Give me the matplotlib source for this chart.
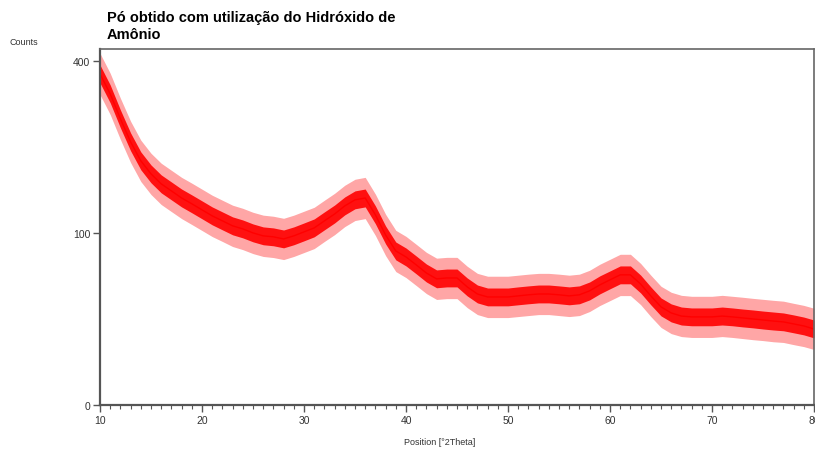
import numpy as np
import matplotlib
matplotlib.use("Agg")
import matplotlib.pyplot as plt
from matplotlib.ticker import FixedLocator, MultipleLocator

plt.rcParams['font.family'] = ['Liberation Sans', 'DejaVu Sans']

two_theta = list(range(10, 81))
counts = [370.2, 326.9, 276.6, 233.8, 201.4, 180.4, 165.1, 154.8, 144.7, 136.7,
          128.6, 120.8, 114.5, 108.4, 104.7, 100.0, 96.6, 95.5, 93.1, 96.6,
          101.2, 105.9, 114.5, 123.2, 133.9, 142.1, 144.7, 122.1, 97.6, 80.1,
          74.0, 66.3, 58.8, 53.7, 54.5, 54.5, 47.1, 41.6, 39.4, 39.4,
          39.4, 40.2, 41.0, 41.6, 41.6, 41.0, 40.2, 41.0, 44.0, 48.7,
          52.9, 57.2, 57.2, 49.4, 40.2, 32.5, 28.6, 26.7, 26.2, 26.2,
          26.2, 26.7, 26.2, 25.6, 25.0, 24.4, 23.8, 23.3, 22.2, 21.1, 19.5]
band_lo = [350.4, 308.4, 259.5, 218.2, 186.9, 166.7, 152.0, 142.1, 132.5, 124.8,
           117.1, 109.6, 103.6, 97.8, 94.3, 89.9, 86.7, 85.6, 83.4, 86.7,
           91.0, 95.5, 103.6, 111.9, 122.1, 130.0, 132.5, 110.9, 87.6, 71.1,
           65.3, 58.1, 51.1, 46.4, 47.1, 47.1, 40.2, 35.2, 33.2, 33.2,
           33.2, 33.9, 34.6, 35.2, 35.2, 34.6, 33.9, 34.6, 37.3, 41.7,
           45.6, 49.6, 49.6, 42.4, 33.9, 26.8, 23.3, 21.6, 21.2, 21.2,
           21.2, 21.6, 21.2, 20.6, 20.1, 19.5, 19.0, 18.6, 17.6, 16.6, 15.2]
band_hi = [390.5, 346.0, 294.1, 250.0, 216.4, 194.6, 178.8, 168.0, 157.5, 149.1,
           140.7, 132.5, 125.9, 119.5, 115.6, 110.7, 107.1, 105.9, 103.4, 107.1,
           111.9, 116.9, 125.9, 135.0, 146.2, 154.8, 157.5, 133.9, 108.2, 89.7,
           83.2, 75.0, 67.1, 61.6, 62.4, 62.4, 54.5, 48.6, 46.2, 46.2,
           46.2, 47.1, 47.9, 48.6, 48.6, 47.9, 47.1, 47.9, 51.1, 56.3,
           60.7, 65.3, 65.3, 57.0, 47.1, 38.7, 34.5, 32.4, 31.8, 31.8,
           31.8, 32.4, 31.8, 31.1, 30.5, 29.8, 29.2, 28.6, 27.4, 26.1, 24.4]
spike_lo = [325.4, 284.9, 238.1, 198.5, 168.7, 149.6, 135.7, 126.3, 117.3, 110.0,
            102.8, 95.8, 90.3, 84.8, 81.5, 77.4, 74.5, 73.4, 71.4, 74.5,
            78.5, 82.6, 90.3, 98.0, 107.5, 114.9, 117.3, 97.0, 75.3, 60.1,
            54.8, 48.2, 41.9, 37.6, 38.2, 38.2, 32.0, 27.6, 25.8, 25.8,
            25.8, 26.4, 27.0, 27.6, 27.6, 27.0, 26.4, 27.0, 29.5, 33.4,
            36.8, 40.4, 40.4, 34.0, 26.4, 20.3, 17.2, 15.8, 15.4, 15.4,
            15.4, 15.8, 15.4, 14.9, 14.4, 14.0, 13.5, 13.2, 12.3, 11.5, 10.4]
spike_hi = [417.8, 371.7, 317.9, 271.9, 236.9, 214.0, 197.4, 186.0, 175.0, 166.2,
            157.3, 148.6, 141.6, 134.8, 130.6, 125.4, 121.7, 120.3, 117.7, 121.7,
            126.8, 132.0, 141.6, 151.3, 163.1, 172.1, 175.0, 150.1, 122.8, 103.0,
            96.0, 87.2, 78.7, 72.8, 73.6, 73.6, 65.0, 58.5, 56.0, 56.0,
            56.0, 56.9, 57.8, 58.5, 58.5, 57.8, 56.9, 57.8, 61.3, 66.9,
            71.7, 76.7, 76.7, 67.7, 56.9, 47.6, 42.9, 40.6, 39.9, 39.9,
            39.9, 40.6, 39.9, 39.2, 38.4, 37.7, 37.0, 36.4, 34.9, 33.5, 31.6]

y_ticks = [0, 100, 400]
x_ticks = [10, 20, 30, 40, 50, 60, 70, 80]

fig = plt.figure(figsize=(8.15, 4.52), dpi=100)
ax = fig.add_axes([0.1227, 0.1018, 0.8761, 0.7876])

ax.set_yscale('function', functions=(lambda v: np.sqrt(np.clip(v, 0, None)), lambda v: v ** 2))

# faixa de ruido (picos) e nucleo do sinal
ax.fill_between(two_theta, spike_lo, spike_hi, color='#ff0000', alpha=0.35, lw=0)
ax.fill_between(two_theta, band_lo, band_hi, color='#ff0000', alpha=0.9, lw=0)
ax.plot(two_theta, counts, color='#ff0000', lw=1.0)

ax.set_xlim(10, 80)
ax.set_ylim(0, 428)

ax.xaxis.set_major_locator(FixedLocator(x_ticks))
ax.xaxis.set_minor_locator(MultipleLocator(1))
ax.yaxis.set_major_locator(FixedLocator(y_ticks))
ax.yaxis.set_minor_locator(FixedLocator([]))

ax.tick_params(axis='both', which='major', direction='out', length=5, width=1,
               color='#555555', labelsize=7.5, labelcolor='#333333', pad=2)
ax.tick_params(axis='x', which='minor', direction='out', length=3, width=0.8, color='#555555')

for side in ['left', 'bottom']:
    ax.spines[side].set_color('#555555')
    ax.spines[side].set_linewidth(1.6)
for side in ['top', 'right']:
    ax.spines[side].set_color('#666666')
    ax.spines[side].set_linewidth(1.2)

fig.text(0.1313, 0.975, 'Pó obtido com utilização do Hidróxido de\nAmônio',
         ha='left', va='top', fontsize=10.5, fontweight='bold', linespacing=1.25)
fig.text(0.012, 0.905, 'Counts', ha='left', va='center', fontsize=6.5, color='#333333')
fig.text(0.54, 0.02, 'Position [°2Theta]', ha='center', va='center', fontsize=6.5, color='#333333')

plt.savefig('out.png', dpi=100)
